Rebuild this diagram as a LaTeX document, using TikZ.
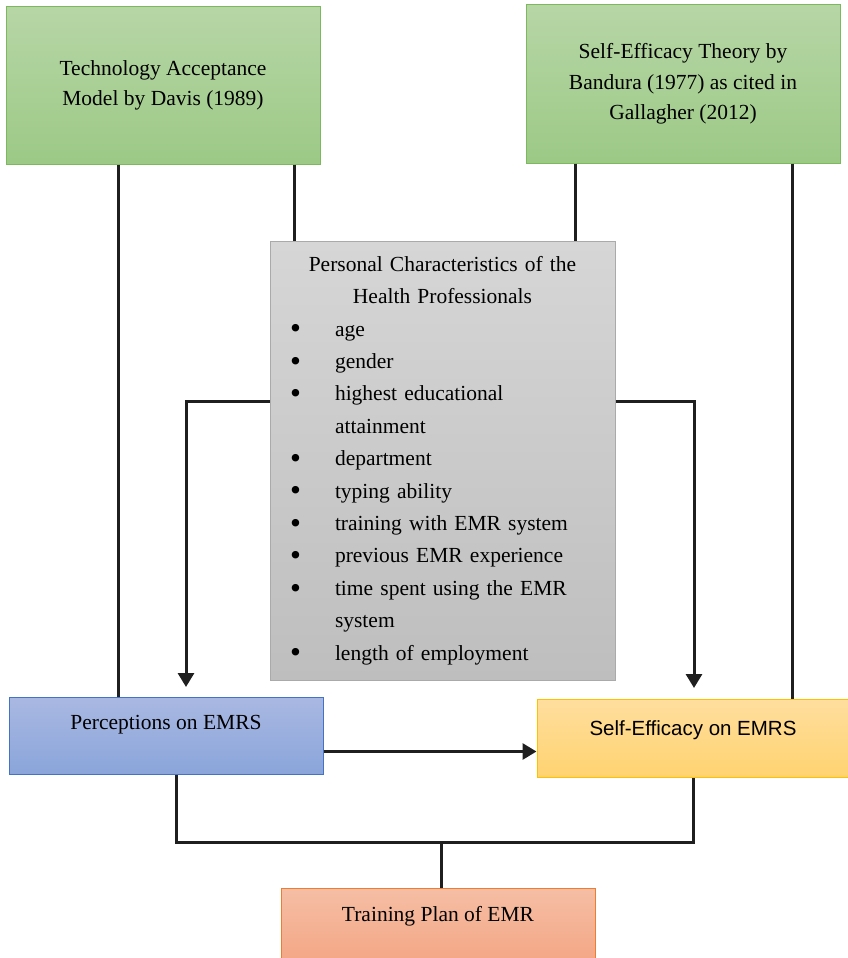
\documentclass[tikz,border=0pt]{standalone}
\usepackage{fontspec}
\setmainfont{Liberation Serif}
\newfontfamily\sefont{Liberation Sans}
\usetikzlibrary{calc,arrows.meta}

\definecolor{greentop}{RGB}{183,214,166}
\definecolor{greenbot}{RGB}{156,201,134}
\definecolor{greenline}{RGB}{124,184,92}
\definecolor{graytop}{RGB}{214,214,214}
\definecolor{graybot}{RGB}{190,190,190}
\definecolor{grayline}{RGB}{170,170,170}
\definecolor{bluetop}{RGB}{169,184,226}
\definecolor{bluebot}{RGB}{138,165,218}
\definecolor{blueline}{RGB}{68,114,196}
\definecolor{yellowtop}{RGB}{255,222,158}
\definecolor{yellowbot}{RGB}{255,211,112}
\definecolor{yellowline}{RGB}{255,192,0}
\definecolor{orangetop}{RGB}{245,190,165}
\definecolor{orangebot}{RGB}{244,166,132}
\definecolor{orangeline}{RGB}{237,125,49}

\tikzset{
  box/.style={draw, line width=1pt, minimum width=314pt, inner sep=0pt, align=center,
    font=\fontsize{21.5}{30.5}\selectfont},
  greenbox/.style={box, top color=greentop, bottom color=greenbot, draw=greenline},
  graybox/.style={draw=grayline, line width=1pt, top color=graytop, bottom color=graybot,
    minimum width=345pt, minimum height=439pt, inner xsep=20pt, inner ysep=0pt,
    text width=305pt, font=\fontsize{21.5}{32.4}\selectfont},
  bluebox/.style={box, top color=bluetop, bottom color=bluebot, draw=blueline},
  yellowbox/.style={box, top color=yellowtop, bottom color=yellowbot, draw=yellowline},
  orangebox/.style={box, top color=orangetop, bottom color=orangebot, draw=orangeline},
  conn/.style={line width=3pt, color=black!88},
  arr/.style={conn, -{Triangle[length=14pt,width=16pt]}},
}
\newcommand{\pitem}[1]{\makebox[45pt][l]{\raisebox{-0.13em}{\scalebox{1.45}{\textbullet}}}#1}

\begin{document}
\begin{tikzpicture}[x=1pt,y=-1pt]
    \useasboundingbox (0,0) rectangle (848,958);
    % theory boxes
    \node[greenbox, minimum height=157pt] (tam) at (163,85.5)
        {Technology Acceptance\\Model by Davis (1989)};
    \node[greenbox, minimum height=158pt] (set) at (683,84)
        {Self-Efficacy Theory by\\Bandura (1977) as cited in\\Gallagher (2012)};
    % personal characteristics
    \node[graybox] (pc) at (442.5,460.5) {{\centering Personal Characteristics of the\\
        Health Professionals\par}\raggedright
        \pitem{age}\\
        \pitem{gender}\\
        \pitem{highest educational}\\
        \hspace*{45pt}attainment\\
        \pitem{department}\\
        \pitem{typing ability}\\
        \pitem{training with EMR system}\\
        \pitem{previous EMR experience}\\
        \pitem{time spent using the EMR}\\
        \hspace*{45pt}system\\
        \pitem{length of employment}};
    % outcome boxes
    \node[bluebox, anchor=north, text height=32pt, text depth=45pt] (perc) at (166,697)
        {Perceptions on EMRS};
    \node[yellowbox, anchor=north, minimum width=312pt, text height=36pt, text depth=42pt,
        font=\sefont\fontsize{20.5}{24}\selectfont] (se) at (693,699)
        {Self-Efficacy on EMRS};
    \node[orangebox, anchor=north, text height=33pt, text depth=42pt] (tp) at (438,888)
        {Training Plan of EMR};

    % connectors
    \draw[conn] ([xshift=-45pt]tam.south) -- ([xshift=-45pt]tam.south |- perc.north);
    \draw[conn] ([xshift=131pt]tam.south) -- ([xshift=131pt]tam.south |- pc.north);
    \draw[conn] ([xshift=-108pt]set.south) -- ([xshift=-108pt]set.south |- pc.north);
    \draw[conn] ([xshift=109pt]set.south) -- ([xshift=109pt]set.south |- se.north);
    \coordinate (pl) at (186,401);
    \coordinate (pr) at (694,401);
    \draw[arr, shorten >=10pt] (pc.west |- pl) -- (pl) -- (pl |- perc.north);
    \draw[arr, shorten >=11pt] (pc.east |- pr) -- (pr) -- (pr |- se.north);
    \coordinate (ha) at ([yshift=-15.5pt]perc.east);
    \draw[arr] (ha) -- (ha -| se.west);
    \coordinate (jn) at (441,842);
    \draw[conn] ([xshift=10pt]perc.south) |- (jn) -| (se.south);
    \draw[conn] (jn) -- (jn |- tp.north);
\end{tikzpicture}
\end{document}
